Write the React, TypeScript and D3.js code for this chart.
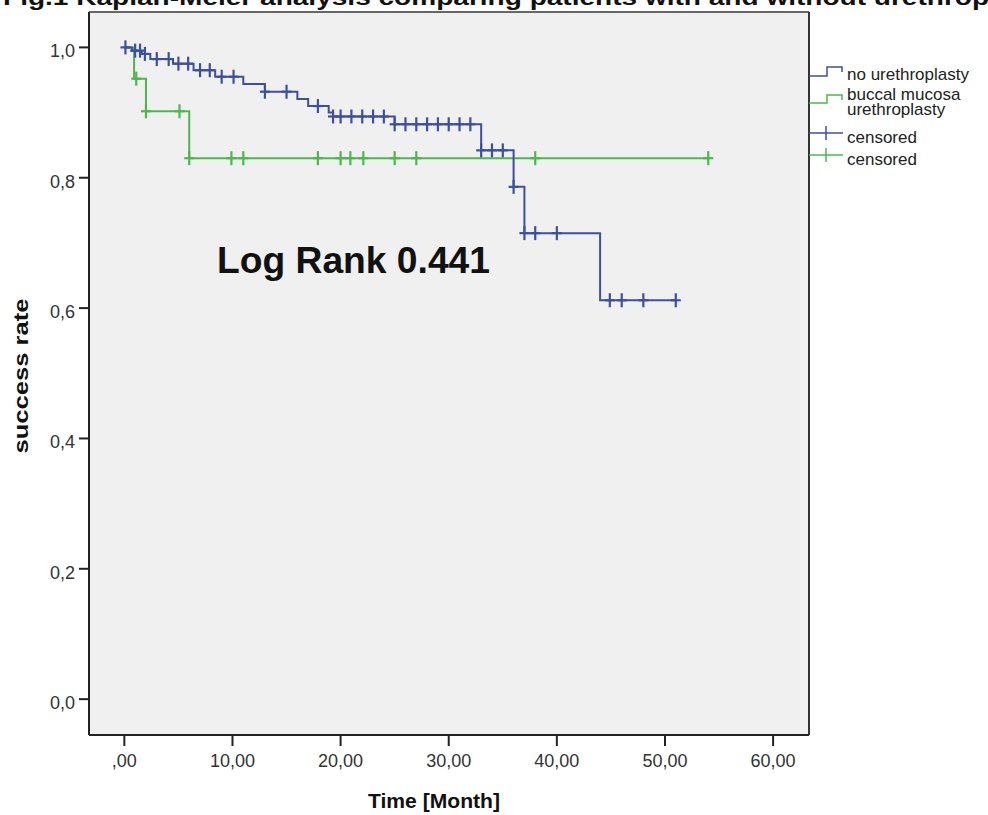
import { useEffect } from 'react';
import * as d3 from 'd3';

// axis ticks
const yTicks = [0, 0.2, 0.4, 0.6, 0.8, 1.0];
const yTickLabels = ['0,0', '0,2', '0,4', '0,6', '0,8', '1,0'];
const xTicks = [0, 10, 20, 30, 40, 50, 60];
const xTickLabels = [',00', '10,00', '20,00', '30,00', '40,00', '50,00', '60,00'];

// no urethroplasty: step times / survival after each step
const noUrethroTimes = [0, 0.7, 1.6, 2.4, 4.5, 6.4, 8.4, 11.0, 13.0, 16.0, 17.0, 18.9, 19.3, 25.0, 33.0, 36.0, 37.0, 44.0, 51.0];
const noUrethroSurv = [1, 0.995, 0.99, 0.982, 0.975, 0.965, 0.955, 0.944, 0.932, 0.921, 0.91, 0.9, 0.894, 0.882, 0.842, 0.786, 0.715, 0.612, 0.612];
const noUrethroCensored = [0.1, 1.0, 1.45, 1.9, 3.0, 4.1, 5.0, 5.9, 7.0, 7.9, 9.0, 10.1, 13.0, 15.0, 17.9, 19.3,
  20.0, 21.0, 22.0, 23.0, 24.0, 25.0, 26.0, 27.0, 28.0, 29.0, 30.0, 31.0, 32.0, 33.0, 34.0, 35.0, 36.0,
  37.0, 38.0, 40.0, 44.9, 46.0, 48.0, 51.0];

// buccal mucosa urethroplasty
const buccalTimes = [0, 0.9, 2.0, 6.0, 54.0];
const buccalSurv = [1, 0.952, 0.902, 0.83, 0.83];
const buccalCensored = [1.1, 2.0, 5.1, 6.0, 9.9, 11.0, 17.9, 20.0, 20.9, 22.1, 25.0, 27.0, 38.0, 54.0];

const W = 988;
const H = 815;
const frame = { left: 89, right: 809, top: 12, bottom: 735 };
const BLUE = '#3d4f9f';
const GREEN = '#4fb64f';
const FONT = 'Arial, "Liberation Sans", sans-serif';

const x = d3.scaleLinear().domain([-3.27, 63.32]).range([frame.left, frame.right]);
const y = d3.scaleLinear().domain([-0.055, 1.0543]).range([frame.bottom, frame.top]);

const stepLine = d3.line<[number, number]>()
  .x(d => x(d[0]))
  .y(d => y(d[1]))
  .curve(d3.curveStepAfter);

function survAt(times: number[], surv: number[], t: number) {
  let s = surv[0];
  for (let i = 0; i < times.length; i++) {
    if (times[i] <= t + 1e-9) s = surv[i];
  }
  return s;
}

function Curve({ times, surv, censored, color }: { times: number[]; surv: number[]; censored: number[]; color: string }) {
  const pts = times.map((t, i) => [t, surv[i]] as [number, number]);
  return (
    <g>
      <path d={stepLine(pts) || ''} fill="none" stroke={color} strokeWidth={2} />
      {censored.map((t, i) => {
        const cx = x(t);
        const cy = y(survAt(times, surv, t));
        return (
          <g key={i} stroke={color} strokeWidth={2.2}>
            <line x1={cx} x2={cx} y1={cy - 7} y2={cy + 7} />
            <line x1={cx - 5} x2={cx + 5} y1={cy} y2={cy} />
          </g>
        );
      })}
    </g>
  );
}

export default function App() {
  useEffect(() => {
    document.body.style.margin = '0';
  }, []);

  return (
    <svg width={W} height={H} style={{ display: 'block', background: '#fff' }} fontFamily={FONT}>
      <text x={3} y={5} fontSize={22} fontWeight="bold" textLength={1050} lengthAdjust="spacingAndGlyphs" fill="#111">
        Fig.1 Kaplan-Meier analysis comparing patients with and without urethroplasty
      </text>

      <rect x={frame.left} y={frame.top} width={frame.right - frame.left} height={frame.bottom - frame.top} fill="#f0f0f0" />

      <Curve times={buccalTimes} surv={buccalSurv} censored={buccalCensored} color={GREEN} />
      <Curve times={noUrethroTimes} surv={noUrethroSurv} censored={noUrethroCensored} color={BLUE} />

      {/* frame */}
      <line x1={frame.left} x2={frame.right} y1={frame.top} y2={frame.top} stroke="#666" strokeWidth={2} />
      <line x1={frame.right} x2={frame.right} y1={frame.top} y2={frame.bottom} stroke="#333" strokeWidth={2} />
      <line x1={frame.left} x2={frame.left} y1={frame.top} y2={frame.bottom} stroke="#222" strokeWidth={2} />
      <line x1={frame.left} x2={frame.right} y1={frame.bottom} y2={frame.bottom} stroke="#222" strokeWidth={2} />

      {/* y axis */}
      {yTicks.map((v, i) => (
        <g key={v}>
          <line x1={frame.left - 10} x2={frame.left} y1={y(v)} y2={y(v)} stroke="#222" strokeWidth={2} />
          <text x={frame.left - 14} y={y(v) + 10} fontSize={18} textAnchor="end" fill="#333">{yTickLabels[i]}</text>
        </g>
      ))}
      {/* x axis */}
      {xTicks.map((v, i) => (
        <g key={v}>
          <line x1={x(v)} x2={x(v)} y1={frame.bottom} y2={frame.bottom + 11} stroke="#222" strokeWidth={2} />
          <text x={x(v)} y={frame.bottom + 32} fontSize={18} textAnchor="middle" fill="#333">{xTickLabels[i]}</text>
        </g>
      ))}

      <text x={368} y={808} fontSize={21} fontWeight="bold" textLength={132} lengthAdjust="spacingAndGlyphs" fill="#111">Time [Month]</text>
      <text transform={`translate(28,${376}) rotate(-90)`} fontSize={21} fontWeight="bold" textAnchor="middle" textLength={155} lengthAdjust="spacingAndGlyphs" fill="#111">success rate</text>

      <text x={217} y={273} fontSize={37} fontWeight="bold" textLength={273} lengthAdjust="spacingAndGlyphs" fill="#111">Log Rank 0.441</text>

      {/* legend */}
      <g fontSize={17} fill="#222">
        <path d={`M${frame.right},76 H827 V67 H842 V72`} fill="none" stroke={BLUE} strokeWidth={1.5} />
        <text x={847} y={80}>no urethroplasty</text>
        <path d={`M${frame.right},103 H827 V95 H842 V100`} fill="none" stroke={GREEN} strokeWidth={1.5} />
        <text x={847} y={100}>buccal mucosa</text>
        <text x={847} y={115}>urethroplasty</text>
        <line x1={frame.right} x2={843} y1={133} y2={133} stroke={BLUE} strokeWidth={1.5} />
        <line x1={826} x2={826} y1={126} y2={140} stroke={BLUE} strokeWidth={1.5} />
        <text x={847} y={143}>censored</text>
        <line x1={frame.right} x2={843} y1={155} y2={155} stroke={GREEN} strokeWidth={1.5} />
        <line x1={826} x2={826} y1={148} y2={162} stroke={GREEN} strokeWidth={1.5} />
        <text x={847} y={165}>censored</text>
      </g>
    </svg>
  );
}
